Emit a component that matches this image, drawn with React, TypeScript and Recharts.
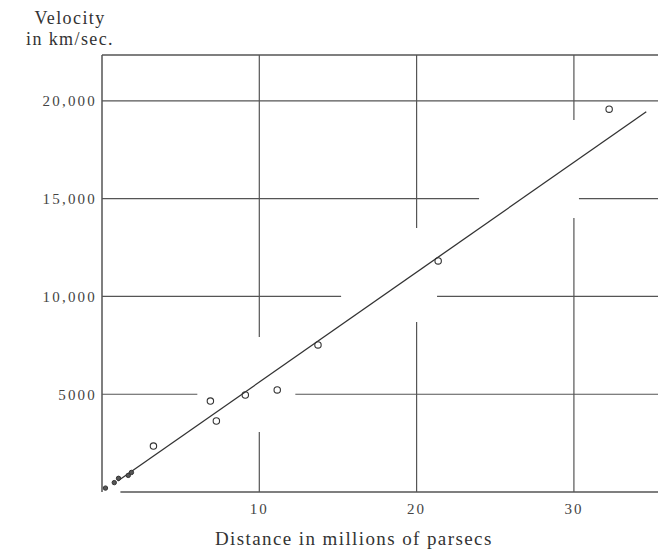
import React from 'react'
import {
  ScatterChart,
  Scatter,
  XAxis,
  YAxis,
  ReferenceLine,
} from 'recharts'

// Hubble diagram: nebulae distance (Mpc) vs radial velocity (km/s)
const distance = [3.27, 6.89, 7.27, 9.11, 11.14, 13.73, 21.37, 32.24]
const velocity = [2350, 4650, 3630, 4960, 5220, 7520, 11820, 19580]

// the crowd of small marks near the origin
const nearDistance = [0.22, 0.78, 1.05, 1.67, 1.87]
const nearVelocity = [200, 480, 700, 850, 1000]

// fitted line end points
const fitDistance = [1.0, 34.6]
const fitVelocity = [560, 19450]

const xTicks = [10, 20, 30]
const yTicks = [5000, 10000, 15000, 20000]
const yTickLabels = ['5000', '10,000', '15,000', '20,000']

const X_MAX = 35.6
const Y_MAX = 22350

// the grid in the print is broken in places; each row = [value, from, to]
const hGrid: [number, number, number][] = [
  [20000, 0, X_MAX],
  [15000, 0, 23.97],
  [15000, 30.32, X_MAX],
  [10000, 0, 15.2],
  [10000, 21.3, X_MAX],
  [5000, 0, 6.06],
  [5000, 12.29, X_MAX],
]
const vGrid: [number, number, number][] = [
  [10, 0, 3070],
  [10, 7930, Y_MAX],
  [20, 0, 8700],
  [20, 13500, Y_MAX],
  [30, 0, 14015],
  [30, 19030, Y_MAX],
]

const points = distance.map((d, i) => ({ x: d, y: velocity[i] }))
const nearPoints = nearDistance.map((d, i) => ({ x: d, y: nearVelocity[i] }))
const fitLine = fitDistance.map((d, i) => ({ x: d, y: fitVelocity[i] }))

const ink = '#333'
const gridInk = '#555'
const font = '"Liberation Serif", "DejaVu Serif", serif'

export default function App() {
  return (
    <div style={{ position: 'relative', width: 658, height: 542, fontFamily: font }}>
      <div
        style={{
          position: 'absolute',
          left: 0,
          top: 0,
          width: 124,
          textAlign: 'center',
          fontSize: 18,
          lineHeight: '21px',
          letterSpacing: 1.4,
          color: ink,
        }}
      >
        Velocity
        <br />
        in km/sec.
      </div>
      <div
        style={{
          position: 'absolute',
          left: 207,
          top: 520,
          fontSize: 19,
          letterSpacing: 1.4,
          color: ink,
          whiteSpace: 'nowrap',
        }}
      >
        Distance in millions of parsecs
      </div>
      <ScatterChart width={658} height={542} margin={{ top: 47, right: 4, bottom: 28, left: 0 }}>
        <XAxis
          type="number"
          dataKey="x"
          domain={[0, X_MAX]}
          ticks={xTicks}
          allowDataOverflow
          axisLine={false}
          tickLine={false}
          tickSize={6}
          tickMargin={5}
          height={30}
          tick={{ fontSize: 15, fill: '#444', fontFamily: font, letterSpacing: 2 }}
        />
        <YAxis
          type="number"
          dataKey="y"
          domain={[0, Y_MAX]}
          ticks={yTicks}
          allowDataOverflow
          width={94}
          axisLine={{ stroke: gridInk, strokeWidth: 1.5 }}
          tickLine={false}
          tickSize={3}
          tickMargin={2}
          tickFormatter={(v: number) => yTickLabels[yTicks.indexOf(v)] ?? String(v)}
          tick={{ fontSize: 15, fill: '#444', fontFamily: font, letterSpacing: 2.2 }}
        />
        {hGrid.map(([y, a, b], i) => (
          <ReferenceLine
            key={'h' + i}
            segment={[{ x: a, y }, { x: b, y }]}
            stroke={gridInk}
            strokeWidth={1.2}
          />
        ))}
        {vGrid.map(([x, a, b], i) => (
          <ReferenceLine
            key={'v' + i}
            segment={[{ x, y: a }, { x, y: b }]}
            stroke={gridInk}
            strokeWidth={1.2}
          />
        ))}
        <ReferenceLine y={Y_MAX} stroke={gridInk} strokeWidth={1.5} />
        <ReferenceLine x={X_MAX} stroke={gridInk} strokeWidth={1.5} />
        <ReferenceLine
          segment={[{ x: 1.17, y: 0 }, { x: X_MAX, y: 0 }]}
          stroke={gridInk}
          strokeWidth={1.5}
        />
        <Scatter
          data={fitLine}
          line={{ stroke: ink, strokeWidth: 1.3 }}
          shape={() => null}
          isAnimationActive={false}
        />
        <Scatter
          data={nearPoints}
          isAnimationActive={false}
          shape={(p: any) => (
            <circle cx={p.cx} cy={p.cy} r={2.2} fill="#555" stroke={ink} strokeWidth={1} />
          )}
        />
        <Scatter
          data={points}
          isAnimationActive={false}
          shape={(p: any) => (
            <circle cx={p.cx} cy={p.cy} r={3.2} fill="none" stroke={ink} strokeWidth={1.1} />
          )}
        />
      </ScatterChart>
    </div>
  )
}
